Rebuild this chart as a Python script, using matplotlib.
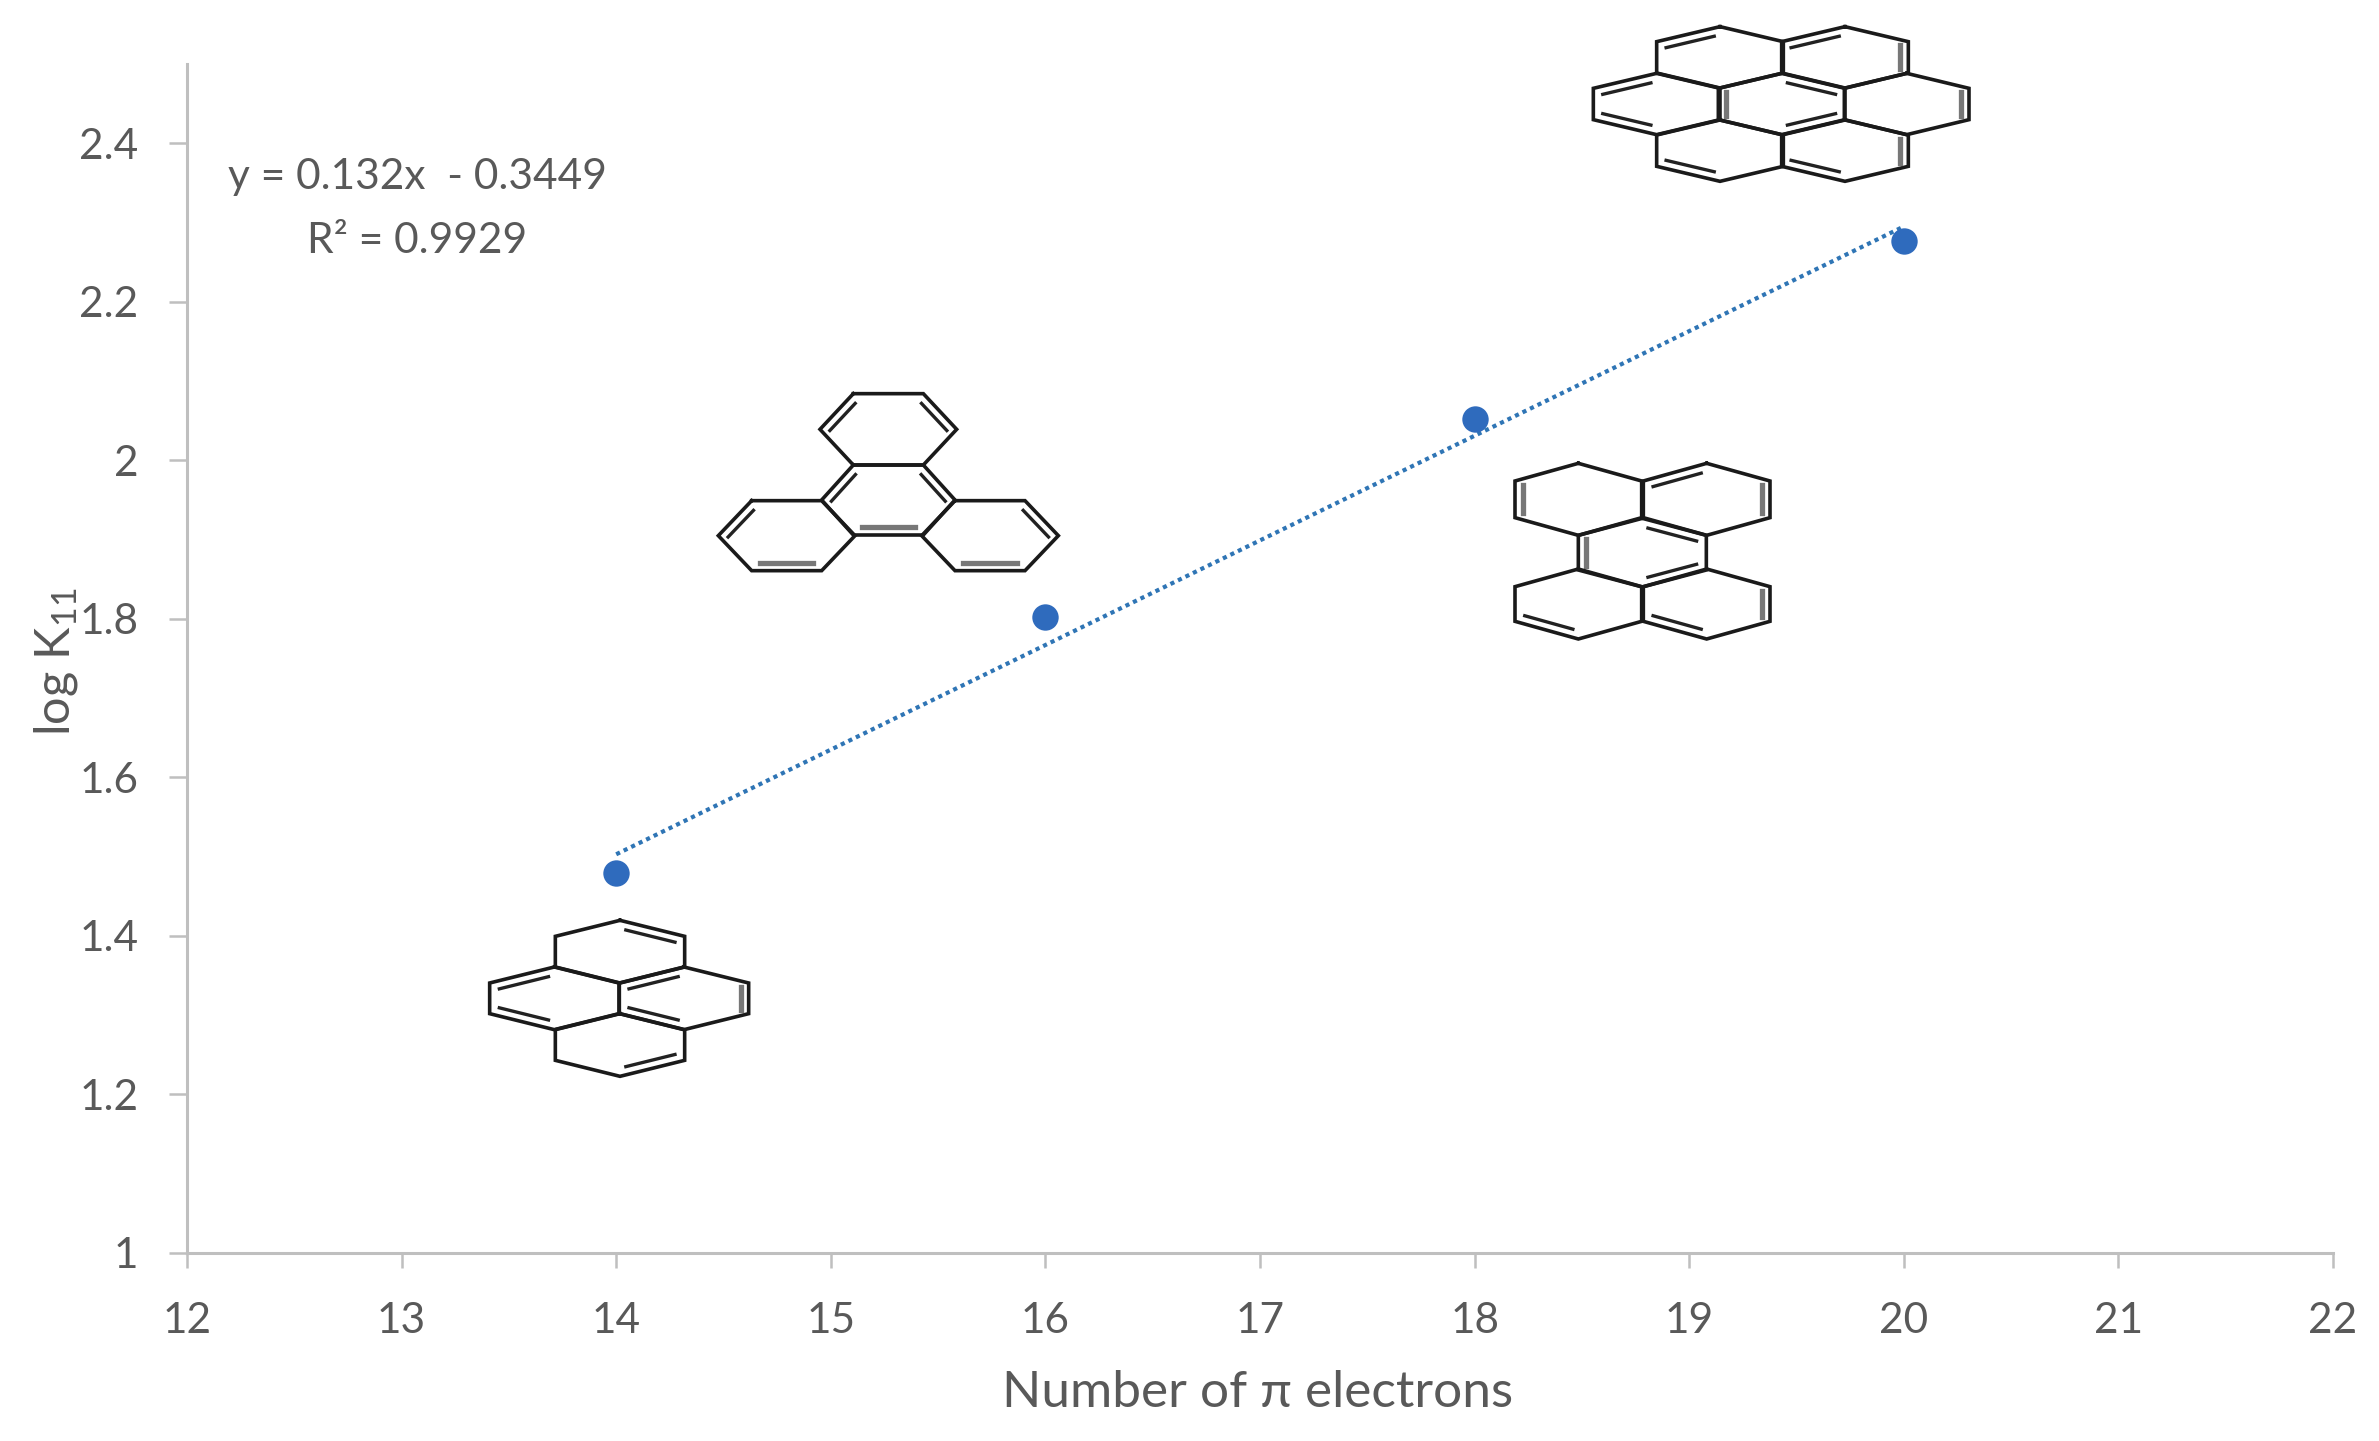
import numpy as np
import matplotlib
matplotlib.use("Agg")
import matplotlib.pyplot as plt

plt.rcParams['font.family'] = ['Lato', 'DejaVu Sans']
plt.rcParams['mathtext.default'] = 'regular'

# Data
n_electrons = [14, 16, 18, 20]
log_k11 = [1.48, 1.802, 2.052, 2.277]
trend_x = [14, 20]
trend_y = [1.503, 2.295]
x_ticks = [12, 13, 14, 15, 16, 17, 18, 19, 20, 21, 22]
y_ticks = [1, 1.2, 1.4, 1.6, 1.8, 2, 2.2, 2.4]
y_tick_labels = ['1', '1.2', '1.4', '1.6', '1.8', '2', '2.2', '2.4']

GREY = '#bfbfbf'
TEXT = '#595959'
BLUE = '#2f6bbd'
W, H = 2379, 1441


def ring_pointy(cx, cy, w, h1, h2):
    # top, upper right, lower right, bottom, lower left, upper left
    return [(cx, cy - h1), (cx + w, cy - h2), (cx + w, cy + h2),
            (cx, cy + h1), (cx - w, cy + h2), (cx - w, cy - h2)]


def ring_flat(cx, cy, w1, w2, h):
    # upper left, upper right, right, lower right, lower left, left
    return [(cx - w1, cy - h), (cx + w1, cy - h), (cx + w2, cy),
            (cx + w1, cy + h), (cx - w1, cy + h), (cx - w2, cy)]


def draw_molecule(axp, ox, oy, rings):
    # ring coordinates are in 3x crop pixels, ox/oy the crop origin
    for verts, doubles in rings:
        pts = np.array(verts, dtype=float) / 3 + [ox, oy]
        c = pts.mean(axis=0)
        closed = np.vstack([pts, pts[0]])
        axp.plot(closed[:, 0], closed[:, 1], color='#1a1a1a', lw=2.6,
                 solid_joinstyle='miter', zorder=3)
        for e in doubles:
            a, b = pts[e], pts[(e + 1) % 6]
            d = b - a
            n = np.array([-d[1], d[0]]) / np.hypot(*d)
            if np.dot(n, c - a) < 0:
                n = -n
            p = a + 0.12 * d + 8 * n
            q = b - 0.12 * d + 8 * n
            flat = abs(d[0]) < 1 or abs(d[1]) < 1
            axp.plot([p[0], q[0]], [p[1], q[1]], color='#777777' if flat else '#222222',
                     lw=3.8 if flat else 2.4, zorder=3)


coronene = [
    (ring_pointy(480, 172, 190, 92, 47), [5]),
    (ring_pointy(855, 172, 190, 92, 47), [5, 1]),
    (ring_pointy(290, 312, 190, 92, 47), [5, 3]),
    (ring_pointy(665, 312, 190, 92, 47), [4, 0, 2]),
    (ring_pointy(1040, 312, 187, 92, 47), [1]),
    (ring_pointy(480, 452, 190, 92, 47), [3]),
    (ring_pointy(855, 452, 190, 92, 47), [3, 1]),
]
triphenylene = [
    (ring_flat(595, 178, 105, 205, 107), [5, 1]),
    (ring_flat(595, 390, 105, 200, 105), [5, 1, 3]),
    (ring_flat(290, 497, 105, 205, 105), [5, 3]),
    (ring_flat(900, 497, 105, 205, 105), [1, 3]),
]
perylene = [
    (ring_pointy(295, 178, 190, 108, 55), [4]),
    (ring_pointy(680, 178, 190, 108, 55), [5, 1]),
    (ring_pointy(487, 338, 192, 103, 52), [4, 0, 2]),
    (ring_pointy(295, 492, 190, 105, 52), [3]),
    (ring_pointy(680, 492, 190, 105, 52), [1, 3]),
]
pyrene = [
    (ring_pointy(480, 155, 194, 94, 46), [0]),
    (ring_pointy(283, 295, 194, 94, 46), [5, 3]),
    (ring_pointy(672, 295, 194, 94, 46), [5, 3, 1]),
    (ring_pointy(480, 435, 194, 94, 46), [2]),
]

fig = plt.figure(figsize=(W / 100, H / 100), dpi=100, facecolor='white')
ax = fig.add_axes([187 / W, 1 - 1253 / H, (2333 - 187) / W, (1253 - 64) / H])

# pixel overlay for the molecule drawings and the free text
axp = fig.add_axes([0, 0, 1, 1])
axp.set_xlim(0, W)
axp.set_ylim(H, 0)
axp.axis('off')
axp.patch.set_alpha(0)

ax.plot(trend_x, trend_y, color='#2f75b5', lw=3.0, linestyle=(0, (1, 1)), zorder=2)
ax.plot(n_electrons, log_k11, 'o', color=BLUE, ms=19, mew=0, zorder=3, clip_on=False)

ax.set_xlim(12, 22)
ax.set_ylim(1, 2.5)
ax.set_xticks(x_ticks)
ax.set_yticks(y_ticks)
ax.set_yticklabels(y_tick_labels)
ax.tick_params(axis='x', length=11, width=1.8, color=GREY, pad=24, labelsize=30.5, labelcolor=TEXT)
ax.tick_params(axis='y', length=13, width=1.8, color=GREY, pad=22, labelsize=30.5, labelcolor=TEXT)
for side in ['top', 'right']:
    ax.spines[side].set_visible(False)
for side in ['left', 'bottom']:
    ax.spines[side].set_color(GREY)
    ax.spines[side].set_linewidth(2.2)

ax.set_xlabel('Number of π electrons', fontsize=37, color=TEXT, va='center')
ax.xaxis.set_label_coords(1258, 1393, transform=axp.transData)
ax.set_ylabel('log K$_{11}$', fontsize=35, color=TEXT, va='center')
ax.yaxis.set_label_coords(56, 662, transform=axp.transData)

axp.text(417, 177, 'y = 0.132x  - 0.3449', fontsize=30.5, color=TEXT, ha='center', va='center')
axp.text(417, 241, 'R² = 0.9929', fontsize=30.5, color=TEXT, ha='center', va='center')

draw_molecule(axp, 1560, 0, coronene)
draw_molecule(axp, 690, 370, triphenylene)
draw_molecule(axp, 1480, 440, perylene)
draw_molecule(axp, 460, 900, pyrene)
axp.set_xlim(0, W)
axp.set_ylim(H, 0)

fig.savefig('out.png', dpi=100)
